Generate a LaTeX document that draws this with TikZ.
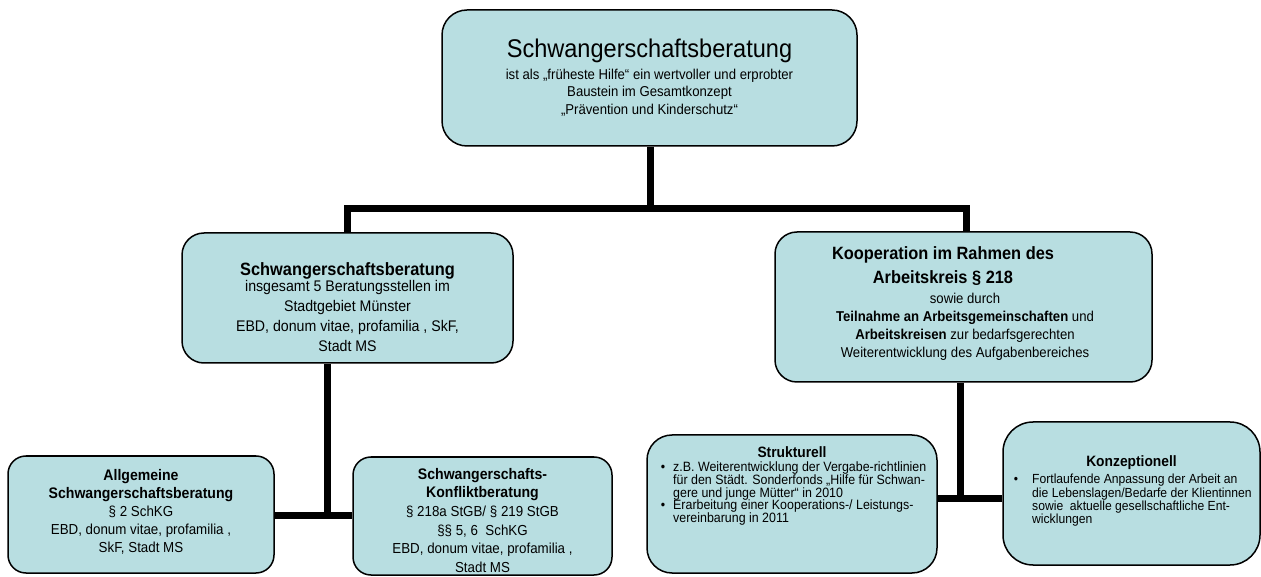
\documentclass[tikz,border=0pt]{standalone}
\usepackage{fontspec}
\setmainfont{Liberation Sans}[FakeStretch=0.92]
\lineskiplimit=-100pt
\definecolor{boxfill}{RGB}{184,222,225}
\tikzset{
  box/.style={draw=black, line width=1.5pt, fill=boxfill, rounded corners=#1, inner sep=0pt},
  box/.default=20pt,
  conn/.style={draw=black, line width=7pt, line join=miter},
  txt/.style={inner sep=0pt, align=center, anchor=north},
}
\begin{document}
\begin{tikzpicture}[x=1pt,y=1pt]
\useasboundingbox (0,0) rectangle (1261,576);

% boxes
\node[box=25pt, minimum width=415pt, minimum height=136pt] (top) at (649.5,498) {};
\node[box=22pt, minimum width=331pt, minimum height=130pt] (ml) at (347.5,278) {};
\node[box=22pt, minimum width=377pt, minimum height=150pt] (mr) at (963.5,269) {};
\node[box=18pt, minimum width=266pt, minimum height=117pt] (bl) at (141,61.5) {};
\node[box=18pt, minimum width=259pt, minimum height=118pt] (bk) at (482.5,60) {};
\node[box=25pt, minimum width=290pt, minimum height=138pt] (st) at (792,72) {};
\node[box=30pt, minimum width=257pt, minimum height=143pt] (kz) at (1131.5,82.5) {};

% connectors
\coordinate (c1) at (650,367);
\coordinate (cL) at (347,367);
\coordinate (cR) at (966,367);
\coordinate (cLL) at (327,61);
\coordinate (cRR) at (960,78);
\draw[conn] (top.south -| c1) -- (c1);
\draw[conn] (ml.north -| cL) -- (cL) -- (cR) -- (mr.north -| cR);
\draw[conn] (ml.south -| cLL) -- (cLL);
\draw[conn] (cLL -| bl.east) -- (cLL -| bk.west);
\draw[conn] (mr.south -| cRR) -- (cRR);
\draw[conn] (cRR -| st.east) -- (cRR -| kz.west);

% texts
\node[txt, font=\fontsize{25.6}{28}\selectfont] (top-t) at (649.5,537) {Schwangerschaftsberatung};
\node[txt, font=\fontsize{14.3}{17.5}\selectfont] (top-b) at (649.5,507.5)
  {ist als „früheste Hilfe“ ein wertvoller und erprobter\\ Baustein im Gesamtkonzept\\ „Prävention und Kinderschutz“};

\node[txt, font=\bfseries\fontsize{17.8}{20}\selectfont] (ml-t) at (347.5,313.3) {Schwangerschaftsberatung};
\node[txt, font=\fontsize{15.4}{20}\selectfont] (ml-b) at (347.5,296)
  {insgesamt 5 Beratungsstellen im\\ Stadtgebiet Münster\\ EBD, donum vitae, profamilia , SkF,\\ Stadt MS};

\node[txt, font=\bfseries\fontsize{17.8}{24}\selectfont] (mr-t) at (943,329.3) {Kooperation im Rahmen des\\ Arbeitskreis § 218};
\node[txt, font=\fontsize{14.3}{18}\selectfont] (mr-b) at (965,283.3)
  {sowie durch\\ \textbf{Teilnahme an Arbeitsgemeinschaften} und\\ \textbf{Arbeitskreisen} zur bedarfsgerechten\\ Weiterentwicklung des Aufgabenbereiches};

\node[txt, font=\fontsize{14.5}{18}\selectfont] (bl-t) at (141,107)
  {{\bfseries\fontsize{15.3}{18}\selectfont Allgemeine}\\ {\bfseries\fontsize{15.3}{18}\selectfont Schwangerschaftsberatung}\\ § 2 SchKG\\ EBD, donum vitae, profamilia ,\\ SkF, Stadt MS};

\node[txt, font=\fontsize{14.5}{18.6}\selectfont] (bk-t) at (482.5,108)
  {{\bfseries\fontsize{15.3}{18.6}\selectfont Schwangerschafts-}\\ {\bfseries\fontsize{15.3}{18.6}\selectfont Konfliktberatung}\\ § 218a StGB/ § 219 StGB\\ §§ 5, 6\ \ SchKG\\ EBD, donum vitae, profamilia ,\\ Stadt MS};

\node[txt, font=\bfseries\fontsize{15}{17}\selectfont] (st-t) at (792,129.5) {Strukturell};
\node[inner sep=0pt, align=left, anchor=north west, font=\fontsize{13.5}{12.7}\selectfont] (st-b) at (673,114.3)
  {\llap{\textbullet\hspace{8pt}}z.B. Weiterentwicklung der Vergabe-richtlinien\\ für den Städt. Sonderfonds „Hilfe für Schwan-\\ gere und junge Mütter“ in 2010\\ \llap{\textbullet\hspace{8pt}}Erarbeitung einer Kooperations-/ Leistungs-\\ vereinbarung in 2011};

\node[txt, font=\bfseries\fontsize{15}{17}\selectfont] (kz-t) at (1131.5,121) {Konzeptionell};
\node[inner sep=0pt, align=left, anchor=north west, font=\fontsize{13.2}{13.4}\selectfont] (kz-b) at (1032,102)
  {\llap{\textbullet\hspace{14pt}}Fortlaufende Anpassung der Arbeit an\\ die Lebenslagen/Bedarfe der Klientinnen\\ sowie\ \ aktuelle gesellschaftliche Ent-\\ wicklungen};
\end{tikzpicture}
\end{document}
